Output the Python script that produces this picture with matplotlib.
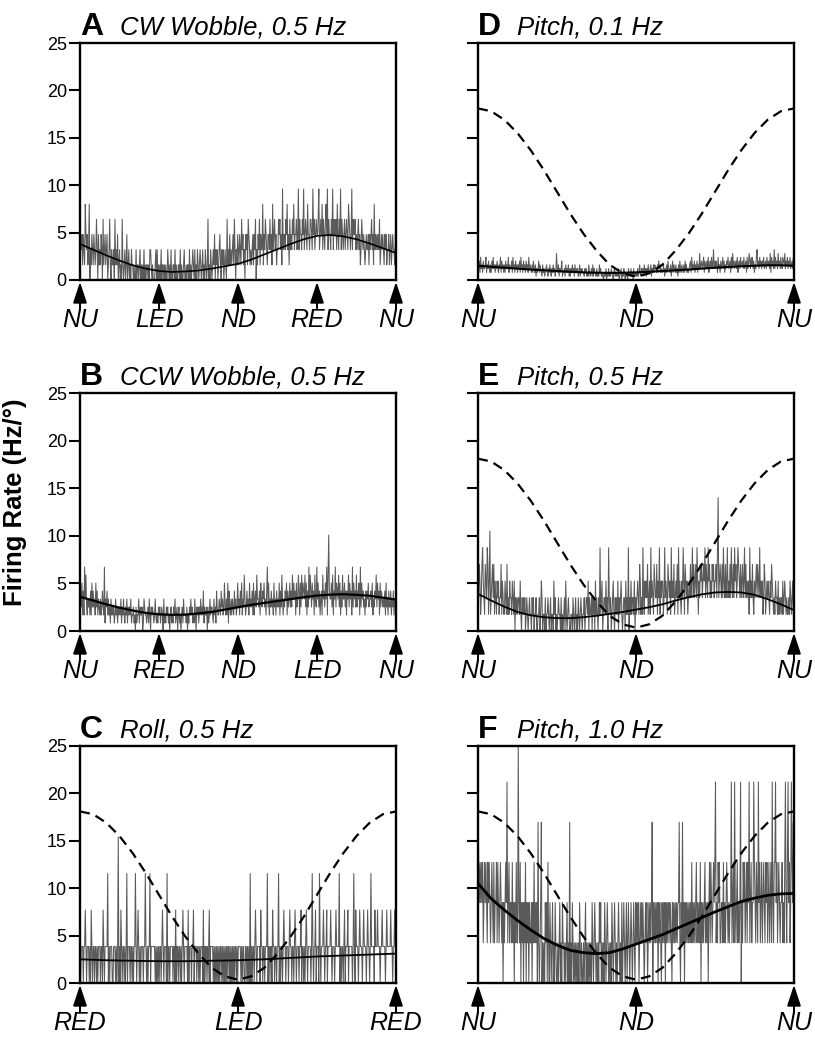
import numpy as np
import matplotlib
matplotlib.use("Agg")
import matplotlib.pyplot as plt

plt.rcParams['font.family'] = ['Liberation Sans', 'DejaVu Sans']

# ---------------- data ----------------
# Binned firing-rate traces: each hex digit = spike count in one bin,
# rate (Hz/deg) = count * quantum
quantum = {"A": 1.6, "B": 0.84, "C": 3.85, "D": 0.4, "E": 1.75, "F": 4.24}

counts_A = ("2323132153" "2312502132" "1321242031" "2132041231" "2301241021" "1204121301" "2010410120" "1301201021"
            "1010020110" "1201010201" "0110102210" "1000120201" "0102011010" "1002101020" "0110201001" "1020100120"
            "0101102010" "1210201021" "0121012010" "2101401021" "0121302120" "1231021201" "2104121312" "1231420213"
            "2132142312" "0323143212" "1231324021" "3241322513" "2432133242" "3152342312" "2434231623" "3243523142"
            "3243523342" "3624332436" "2343253324" "4326342343" "3462343524" "3245362433" "2436243342" "5324362432"
            "3423432543" "2362433423" "2342312432" "3212322313" "2342315232" "3232412323" "2132312231" "2312322132")
counts_B = ("4536252847" "3243425263" "5342635243" "2423532814" "3524231423" "2312423132" "3241324213" "2413232412"
            "2312031224" "1322301432" "2123142032" "3212421213" "2312320412" "1323120231" "2132412302" "3120231422"
            "2130213242" "3121420323" "1324232513" "2230312423" "3214231532" "2432534236" "3242615324" "2432534236"
            "3425362437" "4235342634" "3526245374" "4352643546" "3425836243" "5342634253" "4362537424" "3546253463"
            "5374645263" "4752637465" "4736253847" "5364527438" "4635245274" "5364827c54" "4637254836" "5473625374"
            "4635254736" "4528364537" "3546283645" "3425354634" "4536243547" "3645263543" "4352634253" "3524352434")
counts_C = ("1011101121" "0111010210" "1101101011" "1011021011" "1130101110" "0111010140" "1021011010" "1301110110"
            "1011310121" "0101110113" "1010113011" "1111010101" "0110121011" "1030110111" "1011020110" "1101012101"
            "1110201110" "1120111011" "0101110201" "1011012011" "1101010101" "0101101010" "1010110101" "0101011010"
            "1111010110" "0110101030" "1011012101" "1110211011" "0111301101" "1021101101" "1301011012" "1101110121"
            "1011012101" "1101120110" "1012101111" "0131011201" "1103101112" "1011201111" "2101110121" "1113010110"
            "1201112011" "1110131021" "1101211101" "2111012110" "1311110211" "1211101121" "1110121111" "1211011211")
counts_D = ("4352634253" "3462435324" "2536342435" "3243625342" "4253436243" "3526342534" "2435263425" "3425342634"
            "3242532413" "2352432142" "3123421324" "2132423127" "3241323512" "2314232413" "1324231423" "2312413232"
            "2132312142" "1231413221" "3121423112" "0121302131" "2132102312" "1213012302" "1320121032" "2131203121"
            "2131242132" "3142313242" "2341324243" "3242534232" "2431324253" "3241352432" "4231425324" "3242534232"
            "3452634352" "4352437345" "3462543536" "2453634835" "3542634253" "4635243546" "3452637453" "4536245364"
            "4536345263" "4753646352" "4368453645" "3546345364" "4537264538" "3645374536" "4365473546" "3546345364")
counts_E = ("3243124532" "1432541361" "2342413213" "2312241321" "1321412132" "2132130212" "1221310212" "1201210121"
            "1021201120" "0112013201" "1020112101" "2011031201" "0121102010" "1203101210" "0110210120" "1021012101"
            "1201221302" "1120212031" "2102151230" "1221312052" "1201231021" "2130212310" "1220312150" "2131221302"
            "1232143121" "5213232412" "3152321432" "2413251323" "3125232143" "2315232412" "3241523213" "2531432312"
            "3242352423" "4253132434" "2343524325" "3423243423" "3425823432" "4253242352" "3242532425" "3423543242"
            "3423524232" "3152324213" "2342432523" "2312431232" "3213243212" "1322131212" "2131232121" "1213212312")
counts_F = ("5323232312" "3232132321" "2321312231" "3212321202" "1232512312" "2131202131" "1621302120" "2130212021"
            "1202131212" "0410124010" "1021203102" "1012010210" "0101201021" "1010120104" "0102101010" "1010210100"
            "1012010101" "0102101210" "1010212010" "1021012101" "0102101210" "1012101020" "1210120121" "0121012102"
            "1212012121" "2101212012" "1212402121" "2120212102" "1212021212" "2121021212" "1212241021" "4120212121"
            "2121312121" "2312121302" "1212312120" "2313212323" "5121323112" "2131212321" "2122512315" "2123121250"
            "2132312313" "2512312253" "2132152312" "3123213231" "2312315213" "3523123212" "2312135213" "5231253243")

# Smooth fits (25 samples across one cycle)
fit_A = [3.8, 3.2, 2.6, 2.05, 1.55, 1.2, 0.95, 0.85, 0.9, 1.0, 1.2, 1.45, 1.7,
         2.15, 2.7, 3.25, 3.8, 4.3, 4.65, 4.75, 4.6, 4.3, 3.85, 3.35, 2.85]
fit_B = [3.6, 3.2, 2.8, 2.45, 2.15, 1.9, 1.75, 1.7, 1.72, 1.85, 2.0, 2.25, 2.5,
         2.75, 2.95, 3.15, 3.35, 3.55, 3.72, 3.82, 3.86, 3.8, 3.7, 3.5, 3.3]
fit_C = [2.5, 2.45, 2.4, 2.37, 2.35, 2.32, 2.3, 2.3, 2.3, 2.32, 2.35, 2.37, 2.4,
         2.45, 2.5, 2.57, 2.65, 2.72, 2.8, 2.85, 2.9, 2.95, 3.0, 3.05, 3.1]
fit_D = [1.5, 1.4, 1.3, 1.2, 1.1, 1.02, 0.95, 0.87, 0.8, 0.77, 0.75, 0.77, 0.8,
         0.87, 0.95, 1.02, 1.1, 1.2, 1.3, 1.38, 1.45, 1.5, 1.55, 1.55, 1.5]
fit_E = [3.9, 3.2, 2.55, 2.0, 1.65, 1.45, 1.35, 1.35, 1.45, 1.6, 1.8, 2.0, 2.25,
         2.5, 2.8, 3.2, 3.55, 3.85, 4.05, 4.1, 4.05, 3.8, 3.35, 2.8, 2.2]
fit_F = [10.5, 8.9, 7.7, 6.6, 5.6, 4.7, 4.0, 3.45, 3.2, 3.1, 3.2, 3.6, 4.1,
         4.6, 5.1, 5.7, 6.3, 6.9, 7.5, 8.05, 8.6, 8.95, 9.25, 9.4, 9.45]

# Stimulus position trace (dashed), 25 samples across one cycle
stimulus = [18.1, 17.8, 16.9, 15.5, 13.7, 11.6, 9.3, 7.0, 4.9, 3.1, 1.6, 0.7, 0.35,
            0.7, 1.6, 3.1, 4.9, 7.0, 9.3, 11.6, 13.7, 15.5, 16.9, 17.8, 18.1]

titles = {"A": "CW Wobble, 0.5 Hz", "B": "CCW Wobble, 0.5 Hz", "C": "Roll, 0.5 Hz",
          "D": "Pitch, 0.1 Hz", "E": "Pitch, 0.5 Hz", "F": "Pitch, 1.0 Hz"}
markers = {"A": ["NU", "LED", "ND", "RED", "NU"],
           "B": ["NU", "RED", "ND", "LED", "NU"],
           "C": ["RED", "LED", "RED"],
           "D": ["NU", "ND", "NU"], "E": ["NU", "ND", "NU"], "F": ["NU", "ND", "NU"]}
counts = {"A": counts_A, "B": counts_B, "C": counts_C,
          "D": counts_D, "E": counts_E, "F": counts_F}
fits = {"A": fit_A, "B": fit_B, "C": fit_C, "D": fit_D, "E": fit_E, "F": fit_F}
has_stim = {"A": False, "B": False, "C": True, "D": True, "E": True, "F": True}
yticks = [0, 5, 10, 15, 20, 25]

# ---------------- layout ----------------
W, H = 815, 1042
fig = plt.figure(figsize=(W / 100, H / 100), dpi=100)

def px_axes(l, t, r, b):
    return fig.add_axes([l / W, 1 - b / H, (r - l) / W, (b - t) / H])

boxes = {"A": (80, 43, 396, 280), "D": (478, 43, 794, 280),
         "B": (80, 393, 396, 631), "E": (478, 393, 794, 631),
         "C": (80, 746, 396, 983), "F": (478, 746, 794, 983)}
fit_lw = {"A": 1.2, "B": 1.6, "C": 1.3, "D": 1.5, "E": 1.3, "F": 2.0}

for key, box in boxes.items():
    ax = px_axes(*box)
    c = np.array([int(ch, 16) for ch in counts[key]]) * quantum[key]
    xs = np.linspace(0, 1, len(c))
    ax.plot(xs, c, color="#5a5a5a", lw=0.75)
    fx = np.linspace(0, 1, len(fits[key]))
    ax.plot(fx, fits[key], color="black", lw=fit_lw[key])
    if has_stim[key]:
        sx = np.linspace(0, 1, len(stimulus))
        ax.plot(sx, stimulus, color="black", lw=1.6, linestyle=(0, (4.5, 2.8)))
    ax.set_xlim(0, 1)
    ax.set_ylim(0, 25)
    ax.set_yticks(yticks)
    ax.set_xticks([])
    ax.tick_params(axis="y", direction="out", length=8, width=1.5,
                   labelsize=13, pad=1.5)
    if key in ("D", "E", "F"):
        ax.set_yticklabels([])
    for sp in ax.spines.values():
        sp.set_linewidth(1.7)
        sp.set_zorder(5)
    # panel title
    ax.text(0.0, 1.035, key, transform=ax.transAxes, fontsize=23,
            fontweight="bold", ha="left", va="baseline")
    ax.text(0.125, 1.035, titles[key], transform=ax.transAxes, fontsize=18.5,
            style="italic", ha="left", va="baseline")
    # direction arrows under the axis
    labs = markers[key]
    pos = np.linspace(0, 1, len(labs))
    for p, lab in zip(pos, labs):
        ax.annotate("", xy=(p, -0.008), xycoords=("data", "axes fraction"),
                    xytext=(p, -0.125), textcoords=("data", "axes fraction"),
                    arrowprops=dict(arrowstyle="-|>,head_length=0.85,head_width=0.28",
                                    mutation_scale=15, color="black", lw=1.4,
                                    shrinkA=0, shrinkB=0),
                    annotation_clip=False)
        ax.text(p, -0.17, lab, transform=ax.get_xaxis_transform(),
                fontsize=18, style="italic", ha="center", va="center",
                clip_on=False)

fig.text(15 / W, 1 - 502 / H, "Firing Rate (Hz/°)", rotation=90,
         fontsize=18.5, fontweight="bold", ha="center", va="center")

fig.savefig("out.png", dpi=100)
